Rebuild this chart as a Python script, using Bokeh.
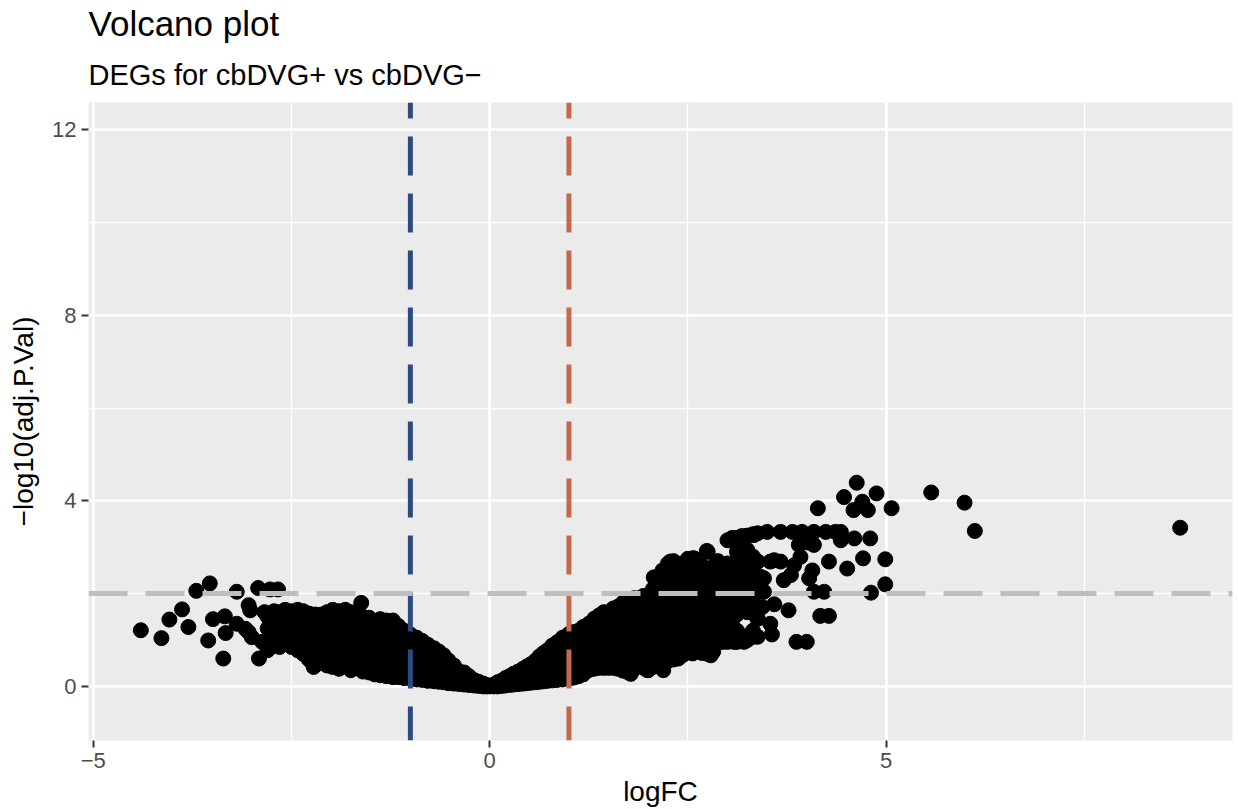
from bokeh.plotting import figure
from bokeh.models import Span, Title, FixedTicker, Range1d
from bokeh.embed import file_html
from bokeh.resources import INLINE

# ---------------- data ----------------
# isolated genes, left side
left_out_x = [-4.40, -4.14, -4.04, -3.88, -3.80, -3.70, -3.53, -3.55, -3.49, -3.36, -3.34, -3.33,
              -3.19, -3.19, -3.08, -3.04, -3.02, -3.00, -3.04, -2.92, -2.91, -2.87, -2.77, -2.67,
              -2.84, -1.62, -2.22]
left_out_y = [1.21, 1.04, 1.44, 1.66, 1.28, 2.06, 2.22, 0.99, 1.45, 0.60, 1.51, 1.15,
              2.04, 1.35, 1.24, 1.75, 1.64, 1.06, 1.17, 2.12, 0.60, 0.96, 2.09, 2.09,
              1.60, 1.80, 0.42]

# dense cloud, left side: logFC -> list of -log10(adj.P.Val)
left_cloud = {
    -2.80: [0.78, 1.00, 1.25, 1.50],
    -2.65: [0.85, 1.10, 1.35, 1.60],
    -2.50: [0.85, 1.10, 1.35, 1.62],
    -2.35: [0.70, 0.95, 1.20, 1.45, 1.62],
    -2.20: [0.45, 0.70, 0.95, 1.20, 1.45, 1.55],
    -2.05: [0.45, 0.70, 0.95, 1.20, 1.45, 1.60],
    -1.90: [0.38, 0.62, 0.87, 1.12, 1.37, 1.62],
    -1.75: [0.35, 0.60, 0.85, 1.10, 1.35, 1.60],
    -1.60: [0.32, 0.57, 0.82, 1.07, 1.32, 1.50],
    -1.45: [0.26, 0.50, 0.75, 1.00, 1.25, 1.40],
    -1.30: [0.22, 0.45, 0.70, 0.95, 1.20, 1.42],
    -1.15: [0.20, 0.42, 0.65, 0.90, 1.15, 1.30],
    -1.00: [0.17, 0.40, 0.65, 0.90, 1.12],
    -0.85: [0.14, 0.37, 0.60, 0.85, 0.98],
    -0.70: [0.11, 0.32, 0.55, 0.82],
    -0.58: [0.09, 0.28, 0.50, 0.67],
    -0.45: [0.06, 0.25, 0.45],
    -0.32: [0.04, 0.18, 0.30],
    -0.20: [0.02, 0.14],
    -0.08: [0.00, 0.06],
    0.00: [0.00],
}
left_cloud_mid = {
    -2.72: [0.88, 1.12, 1.38, 1.62],
    -2.58: [0.95, 1.22, 1.48, 1.65],
    -2.42: [0.78, 1.00, 1.25, 1.50, 1.65],
    -2.28: [0.58, 0.82, 1.08, 1.32, 1.57],
    -2.12: [0.55, 0.82, 1.08, 1.32, 1.55],
    -1.98: [0.42, 0.55, 0.80, 1.05, 1.30, 1.52, 1.65],
    -1.82: [0.48, 0.72, 0.98, 1.22, 1.48, 1.65],
    -1.68: [0.45, 0.70, 0.95, 1.20, 1.45, 1.58],
    -1.52: [0.30, 0.62, 0.88, 1.12, 1.38, 1.48],
    -1.38: [0.24, 0.35, 0.60, 0.85, 1.10, 1.32, 1.45],
    -1.22: [0.20, 0.32, 0.55, 0.80, 1.05, 1.30, 1.42],
    -1.08: [0.18, 0.30, 0.52, 0.78, 1.02, 1.20],
    -0.92: [0.15, 0.26, 0.50, 0.72, 0.95, 1.05],
    -0.78: [0.12, 0.24, 0.45, 0.70, 0.90],
    -0.64: [0.10, 0.20, 0.40, 0.62, 0.75],
    -0.52: [0.07, 0.18, 0.38, 0.56],
    -0.38: [0.05, 0.15, 0.32],
    -0.26: [0.03, 0.10, 0.22],
    -0.14: [0.01, 0.10],
    -0.04: [0.00, 0.03],
}

# dense cloud, right side
right_cloud = {
    0.10: [0.00, 0.09],
    0.20: [0.02, 0.18],
    0.30: [0.04, 0.27],
    0.42: [0.06, 0.22, 0.38],
    0.52: [0.08, 0.28, 0.48],
    0.63: [0.10, 0.30, 0.50, 0.65],
    0.73: [0.12, 0.33, 0.55, 0.78],
    0.85: [0.14, 0.37, 0.60, 0.83, 0.95],
    1.00: [0.17, 0.40, 0.65, 0.90, 1.13],
    1.12: [0.22, 0.45, 0.70, 0.95, 1.20],
    1.25: [0.35, 0.60, 0.85, 1.10, 1.35],
    1.38: [0.40, 0.65, 0.90, 1.15, 1.40, 1.53],
    1.50: [0.40, 0.65, 0.90, 1.15, 1.40, 1.60],
    1.62: [0.38, 0.62, 0.87, 1.12, 1.37, 1.62, 1.72],
    1.75: [0.30, 0.55, 0.80, 1.05, 1.30, 1.55, 1.80],
    1.88: [0.45, 0.70, 0.95, 1.20, 1.45, 1.70, 1.90],
    2.00: [0.35, 0.60, 0.85, 1.10, 1.35, 1.60, 1.85, 1.95],
    2.12: [0.50, 0.75, 1.00, 1.25, 1.50, 1.75, 2.00, 2.35],
    2.25: [0.55, 0.80, 1.05, 1.30, 1.55, 1.80, 2.05, 2.30, 2.65],
    2.38: [0.60, 0.85, 1.10, 1.35, 1.60, 1.85, 2.10, 2.35, 2.58],
    2.50: [0.75, 1.00, 1.25, 1.50, 1.75, 2.00, 2.25, 2.50, 2.75],
    2.62: [0.75, 1.00, 1.25, 1.50, 1.75, 2.00, 2.25, 2.45],
    2.75: [0.70, 0.95, 1.20, 1.45, 1.70, 1.95, 2.20, 2.45, 2.90],
    2.88: [0.95, 1.20, 1.45, 1.70, 1.95, 2.20, 2.45, 2.70],
    3.00: [0.96, 1.20, 1.45, 1.70, 1.95, 2.20, 2.45, 2.65, 3.15],
    3.12: [0.96, 1.20, 1.55, 1.80, 2.05, 2.30, 2.55, 2.90, 3.20],
    3.25: [1.00, 1.60, 1.85, 2.10, 2.35, 2.60, 2.94, 3.25],
    3.38: [1.07, 1.46, 1.71, 2.04, 2.30, 2.69, 3.30],
}
right_cloud_mid = {
    0.05: [0.00, 0.04],
    0.15: [0.01, 0.12],
    0.25: [0.03, 0.12, 0.22],
    0.36: [0.05, 0.16, 0.32],
    0.47: [0.07, 0.18, 0.34, 0.43],
    0.58: [0.09, 0.20, 0.40, 0.56],
    0.68: [0.11, 0.22, 0.44, 0.65, 0.72],
    0.79: [0.13, 0.25, 0.48, 0.72, 0.88],
    0.92: [0.15, 0.28, 0.52, 0.78, 1.00, 1.05],
    1.06: [0.19, 0.30, 0.55, 0.80, 1.05, 1.17],
    1.18: [0.26, 0.35, 0.58, 0.82, 1.08, 1.28],
    1.32: [0.38, 0.52, 0.78, 1.02, 1.28, 1.46],
    1.44: [0.40, 0.52, 0.78, 1.02, 1.28, 1.52, 1.60],
    1.56: [0.40, 0.50, 0.75, 1.00, 1.25, 1.50, 1.68],
    1.68: [0.34, 0.48, 0.72, 0.98, 1.22, 1.48, 1.72, 1.80],
    1.82: [0.38, 0.58, 0.82, 1.08, 1.32, 1.58, 1.82, 1.90],
    1.94: [0.40, 0.52, 0.78, 1.02, 1.28, 1.52, 1.78, 1.95],
    2.06: [0.42, 0.62, 0.88, 1.12, 1.38, 1.62, 1.88, 2.10],
    2.18: [0.50, 0.68, 0.92, 1.18, 1.42, 1.68, 1.92, 2.18, 2.50],
    2.32: [0.58, 0.70, 0.95, 1.20, 1.45, 1.70, 1.95, 2.20, 2.45, 2.70],
    2.44: [0.68, 0.92, 1.18, 1.42, 1.68, 1.92, 2.18, 2.42, 2.65],
    2.56: [0.75, 0.88, 1.12, 1.38, 1.62, 1.88, 2.12, 2.38, 2.60, 2.76],
    2.68: [0.72, 0.88, 1.12, 1.38, 1.62, 1.88, 2.12, 2.35, 2.60],
    2.82: [0.75, 1.08, 1.32, 1.58, 1.82, 2.08, 2.32, 2.58],
    2.94: [0.96, 1.08, 1.32, 1.58, 1.82, 2.08, 2.32, 2.55],
    3.06: [1.08, 1.32, 1.58, 1.82, 2.08, 2.32, 2.55, 3.20],
    3.18: [1.08, 1.70, 1.95, 2.18, 2.42, 2.70, 3.24],
    3.32: [1.20, 1.58, 1.95, 2.20, 2.45, 2.80, 3.28],
}

# isolated genes, right side
right_out_x = [2.74, 2.28, 2.58, 2.07, 2.87, 3.02, 3.17, 3.33,
               3.50, 3.67, 3.82, 3.94, 4.09, 4.24, 4.36, 4.43,
               4.14, 4.63, 4.47, 4.70, 4.88, 4.59, 4.77, 5.07, 5.57, 5.99, 6.12, 8.71,
               4.60, 4.80, 4.43, 4.09, 3.90, 4.28, 4.51, 4.71, 4.99, 4.99, 4.81, 4.22, 4.09,
               4.07, 4.03, 3.77, 4.17, 4.28, 3.87, 4.00, 3.59, 3.54, 3.56, 2.79,
               3.92, 3.84, 3.80, 3.71, 4.02, 3.67, 3.54, 3.38, 3.33, 3.46, 3.59, 3.42,
               3.17, 3.46, 3.44, 3.38, 3.33, 3.21, 3.08, 2.91, 2.56, 2.32, 2.19, 1.99, 1.78]
right_out_y = [2.92, 2.69, 2.76, 2.35, 2.69, 3.15, 3.22, 3.26,
               3.33, 3.33, 3.33, 3.33, 3.33, 3.33, 3.33, 3.33,
               3.84, 4.39, 4.08, 3.98, 4.16, 3.80, 3.80, 3.84, 4.18, 3.96, 3.35, 3.42,
               3.19, 3.19, 3.15, 3.05, 3.05, 2.69, 2.54, 2.76, 2.74, 2.20, 2.02, 2.04, 2.04,
               2.50, 2.33, 1.64, 1.52, 1.52, 0.96, 0.96, 1.77, 1.35, 1.12, 0.67,
               2.79, 2.61, 2.40, 2.29, 3.10, 2.69, 2.69, 2.69, 2.43, 2.33, 2.72, 2.36,
               2.87, 2.04, 1.71, 1.46, 1.07, 0.96, 0.96, 0.96, 0.71, 0.60, 0.35, 0.35, 0.27]

# thresholds
fc_down = -1
fc_up = 1
sig_line = 2

x_ticks = [-5, 0, 5]
x_minor = [-2.5, 2.5, 7.5]
y_ticks = [0, 4, 8, 12]
y_minor = [2, 6, 10]

xs, ys = [], []
xs += left_out_x
ys += left_out_y
for cloud in (left_cloud, left_cloud_mid, right_cloud, right_cloud_mid):
    for fx, vals in cloud.items():
        for v in vals:
            xs.append(fx)
            ys.append(v)
xs += right_out_x
ys += right_out_y

FONT = "Liberation Sans"

p = figure(width=1238, height=809, output_backend="svg", toolbar_location=None,
           x_range=Range1d(-5.06, 9.37), y_range=Range1d(-1.166, 12.585),
           min_border_left=88, min_border_right=6, min_border_top=100, min_border_bottom=69,
           title="Volcano plot")
p.title.text_font = FONT
p.title.text_font_size = "35px"
p.title.text_font_style = "normal"
p.title.text_color = "black"
p.title.align = "left"
p.title.standoff = 3
p.add_layout(Title(text="DEGs for cbDVG+ vs cbDVG\u2212", text_font=FONT, text_font_size="29px",
                   text_font_style="normal", text_color="black", align="left",
                   standoff=24), "above")

p.background_fill_color = "#EBEBEB"
p.border_fill_color = "white"
p.outline_line_color = None

p.xaxis.ticker = FixedTicker(ticks=x_ticks, minor_ticks=x_minor)
p.yaxis.ticker = FixedTicker(ticks=y_ticks, minor_ticks=y_minor)
p.xaxis.major_label_overrides = {-5: "\u22125"}
p.xaxis.axis_label = "logFC"
p.yaxis.axis_label = "\u2212log10(adj.P.Val)"
for ax in (p.xaxis, p.yaxis):
    ax.axis_line_color = None
    ax.major_tick_line_color = "#333333"
    ax.major_tick_line_width = 2
    ax.major_tick_out = 7
    ax.major_tick_in = 0
    ax.minor_tick_line_color = None
    ax.major_label_text_font = FONT
    ax.major_label_text_font_size = "22px"
    ax.major_label_text_color = "#4D4D4D"
    ax.major_label_standoff = 5
    ax.axis_label_text_font = FONT
    ax.axis_label_text_font_size = "28px"
    ax.axis_label_text_font_style = "normal"
    ax.axis_label_text_color = "black"
    ax.axis_label_standoff = 5
p.yaxis.axis_label_standoff = 10

p.grid.grid_line_color = "white"
p.grid.grid_line_width = 2.7
p.grid.minor_grid_line_color = "white"
p.grid.minor_grid_line_width = 1.4

p.scatter(xs, ys, size=15, color="black")

p.add_layout(Span(location=fc_down, dimension="height", line_color="#2E4A7F", line_width=5,
                  line_dash="39 18", line_dash_offset=23))
p.add_layout(Span(location=fc_up, dimension="height", line_color="#C2694F", line_width=5,
                  line_dash="39 18", line_dash_offset=23))
p.add_layout(Span(location=sig_line, dimension="width", line_color="#BEBEBE", line_width=5,
                  line_dash="39 18"))

open("out.html", "w").write(file_html(p, INLINE))
